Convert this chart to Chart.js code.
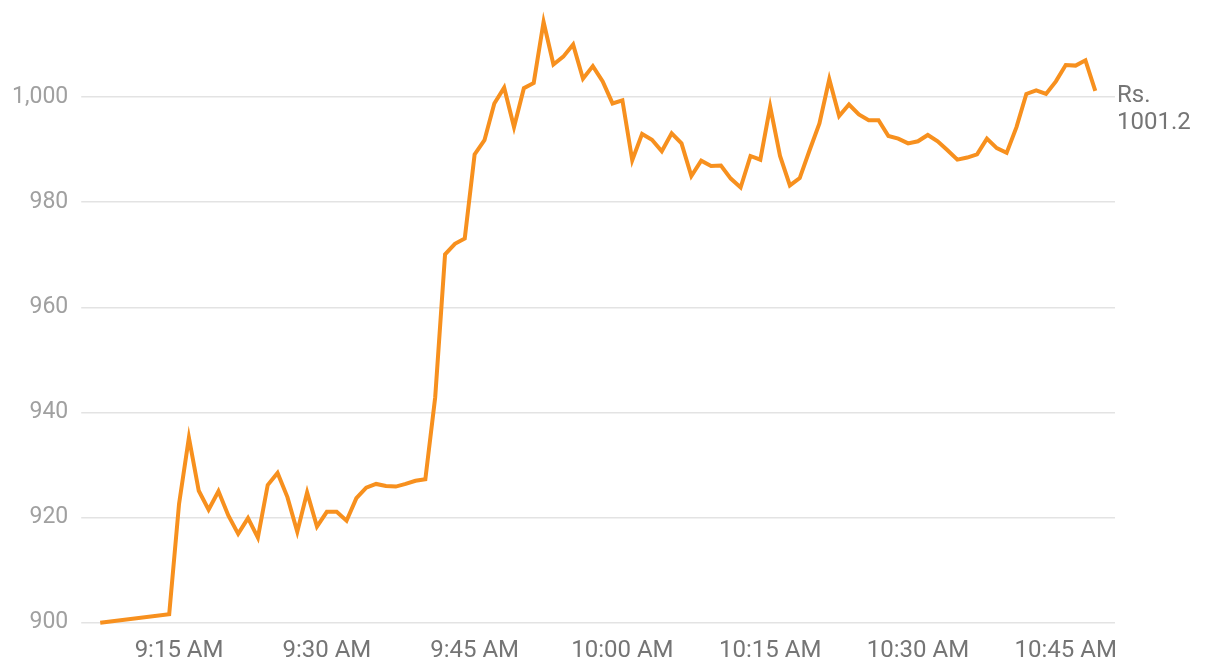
<!DOCTYPE html>
<html>
<head>
<meta charset="utf-8">
<script src="https://cdn.jsdelivr.net/npm/chart.js@4.4.1/dist/chart.umd.min.js"></script>
<style>
  html, body { margin: 0; padding: 0; background: #ffffff; }
  #wrap { width: 1220px; height: 672px; position: relative; }
</style>
</head>
<body>
<div id="wrap"><canvas id="c"></canvas></div>
<script>
// ---- data ----
const times = [
  "9:07","9:14",
  "9:15","9:16","9:17","9:18","9:19","9:20","9:21","9:22","9:23","9:24",
  "9:25","9:26","9:27","9:28","9:29","9:30","9:31","9:32","9:33","9:34",
  "9:35","9:36","9:37","9:38","9:39","9:40","9:41","9:42","9:43","9:44",
  "9:45","9:46","9:47","9:48","9:49","9:50","9:51","9:52","9:53","9:54",
  "9:55","9:56","9:57","9:58","9:59","10:00","10:01","10:02","10:03","10:04",
  "10:05","10:06","10:07","10:08","10:09","10:10","10:11","10:12","10:13","10:14",
  "10:15","10:16","10:17","10:18","10:19","10:20","10:21","10:22","10:23","10:24",
  "10:25","10:26","10:27","10:28","10:29","10:30","10:31","10:32","10:33","10:34",
  "10:35","10:36","10:37","10:38","10:39","10:40","10:41","10:42","10:43","10:44",
  "10:45","10:46","10:47","10:48"
];
const prices = [
  900.0, 901.6,
  922.6, 935.2, 925.1, 921.5, 925.0, 920.4, 916.9, 919.9, 916.2, 926.2,
  928.5, 923.9, 917.3, 924.8, 918.3, 921.1, 921.1, 919.4, 923.7, 925.7,
  926.4, 926.0, 925.9, 926.4, 927.0, 927.3, 942.9, 970.1, 972.1, 973.1,
  989.1, 991.8, 998.8, 1001.8, 994.3, 1001.7, 1002.7, 1014.3, 1006.2, 1007.7,
  1010.0, 1003.5, 1005.9, 1003.0, 998.8, 999.4, 988.0, 993.0, 991.9, 989.7,
  993.1, 991.2, 985.0, 987.9, 986.9, 987.0, 984.5, 982.8, 988.8, 988.1,
  998.2, 988.8, 983.2, 984.6, 989.9, 995.0, 1003.4, 996.4, 998.6, 996.7,
  995.6, 995.6, 992.6, 992.1, 991.2, 991.6, 992.8, 991.6, 989.9, 988.1,
  988.5, 989.1, 992.1, 990.3, 989.4, 994.3, 1000.6, 1001.3, 1000.6, 1003.0,
  1006.1, 1006.0, 1007.0, 1001.2
];
const yTicks = [900, 920, 940, 960, 980, 1000];
const xTickTimes = ["9:15","9:30","9:45","10:00","10:15","10:30","10:45"];
const xRange = ["9:07", "10:50"];
const yRange = [900, 1014.6];
const currency = "Rs.";

// ---- helpers ----
function toMin(t) { const p = t.split(":"); return (+p[0]) * 60 + (+p[1]); }
function fmtTime(m) {
  let h = Math.floor(m / 60), mm = m % 60;
  const ap = h >= 12 ? "PM" : "AM";
  if (h > 12) h -= 12;
  return h + ":" + String(mm).padStart(2, "0") + " " + ap;
}
function fmtNum(v) { return v.toString().replace(/\B(?=(\d{3})+(?!\d))/g, ","); }

const points = times.map((t, i) => ({ x: toMin(t), y: prices[i] }));
const FONT = "Roboto";

const endLabel = {
  id: "endLabel",
  afterDatasetsDraw(chart) {
    const meta = chart.getDatasetMeta(0);
    const last = meta.data[meta.data.length - 1];
    const ctx = chart.ctx;
    ctx.save();
    ctx.font = "24px " + FONT;
    ctx.fillStyle = "#757575";
    ctx.textAlign = "left";
    ctx.textBaseline = "middle";
    const x = chart.chartArea.right + 2;
    ctx.fillText(currency, x, last.y + 5.5);
    ctx.fillText(String(prices[prices.length - 1]), x, last.y + 32.5);
    ctx.restore();
  }
};

new Chart(document.getElementById("c"), {
  type: "line",
  data: {
    datasets: [{
      data: points,
      borderColor: "#f7901e",
      borderWidth: 4,
      pointRadius: 0,
      pointHoverRadius: 0,
      tension: 0,
      fill: false,
      clip: false,
      borderJoinStyle: "miter"
    }]
  },
  options: {
    responsive: true,
    maintainAspectRatio: false,
    animation: false,
    events: [],
    layout: { padding: { left: -1, right: 105, top: 20.4, bottom: -7.5 } },
    plugins: { legend: { display: false }, tooltip: { enabled: false } },
    scales: {
      x: {
        type: "linear",
        min: toMin(xRange[0]),
        max: toMin(xRange[1]),
        afterBuildTicks(axis) { axis.ticks = xTickTimes.map(t => ({ value: toMin(t) })); },
        grid: { display: false, drawTicks: false },
        border: { display: false },
        ticks: {
          autoSkip: false,
          maxRotation: 0,
          padding: 14,
          color: "#757575",
          font: { family: FONT, size: 24 },
          callback: v => fmtTime(v)
        }
      },
      y: {
        min: yRange[0],
        max: yRange[1],
        afterBuildTicks(axis) { axis.ticks = yTicks.map(v => ({ value: v })); },
        grid: { color: "#e3e3e3", lineWidth: 1.5, drawTicks: true, tickLength: 19, tickColor: "#e3e3e3" },
        border: { display: false },
        ticks: {
          padding: 13,
          color: "#a0a0a0",
          font: { family: FONT, size: 23, lineHeight: 0.5 },
          callback: v => fmtNum(v)
        }
      }
    }
  },
  plugins: [endLabel]
});
</script>
</body>
</html>
